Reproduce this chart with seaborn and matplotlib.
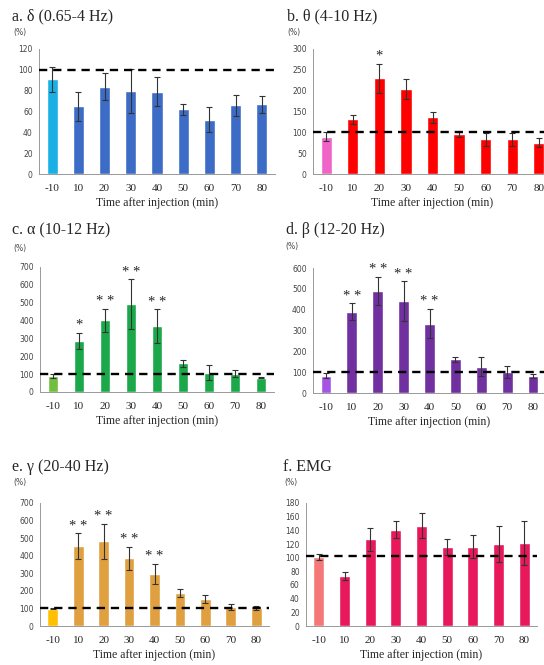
import matplotlib
matplotlib.use("Agg")
import matplotlib.pyplot as plt
import numpy as np
import pandas as pd
import seaborn as sns

sns.set_style("white")
plt.rcParams['font.family'] = ['DejaVu Sans']

times = ["-10", "10", "20", "30", "40", "50", "60", "70", "80"]

delta_mean = [91, 65, 84, 80, 79, 62, 52, 66, 67]
delta_err = [12, 14, 13, 21, 14, 5, 12, 10, 8]
delta_sig = ["", "", "", "", "", "", "", "", ""]

theta_mean = [90, 131, 230, 204, 136, 95, 83, 83, 75]
theta_err = [10, 11, 35, 23, 14, 6, 16, 15, 11]
theta_sig = ["", "", "*", "", "", "", "", "", ""]

alpha_mean = [88, 286, 401, 493, 370, 160, 108, 103, 80]
alpha_err = [12, 47, 63, 138, 93, 20, 43, 20, 4]
alpha_sig = ["", "*", "* *", "* *", "* *", "", "", "", ""]

beta_mean = [83, 390, 489, 441, 333, 161, 126, 102, 81]
beta_err = [12, 41, 68, 95, 71, 14, 46, 30, 8]
beta_sig = ["", "* *", "* *", "* *", "* *", "", "", "", ""]

gamma_mean = [99, 456, 481, 385, 296, 187, 153, 109, 101]
gamma_err = [3, 72, 101, 65, 57, 23, 22, 19, 10]
gamma_sig = ["", "* *", "* *", "* *", "* *", "", "", "", ""]

emg_mean = [101, 73, 127, 141, 147, 116, 116, 120, 122]
emg_err = [5, 6, 17, 12, 18, 12, 17, 26, 32]
emg_sig = ["", "", "", "", "", "", "", "", ""]

titles = ["a. δ (0.65-4 Hz)", "b. θ (4-10 Hz)", "c. α (10-12 Hz)",
          "d. β (12-20 Hz)", "e. γ (20-40 Hz)", "f. EMG"]
ymax = [120, 300, 700, 600, 700, 180]
ystep = [20, 50, 100, 100, 100, 20]
baseline = [100, 100, 100, 100, 105, 102]
first_colors = ["#1AB0E6", "#F064C8", "#72BE3E", "#A455E6", "#FFC000", "#F47878"]
rest_colors = ["#3C6CC6", "#FF0000", "#1AA84A", "#7030A0", "#E0A040", "#E8185C"]

means = [delta_mean, theta_mean, alpha_mean, beta_mean, gamma_mean, emg_mean]
errs = [delta_err, theta_err, alpha_err, beta_err, gamma_err, emg_err]
sigs = [delta_sig, theta_sig, alpha_sig, beta_sig, gamma_sig, emg_sig]

W, H = 544, 665
fig = plt.figure(figsize=(W / 100, H / 100), dpi=100)

# axes boxes in pixels: left, top, right, bottom
boxes = [(39, 49, 275, 174), (313, 49, 552, 174),
         (40, 267, 274, 392), (313, 268, 546, 393),
         (40, 503, 269, 626), (306, 503, 537, 626)]
title_pos = [(12, 16), (287, 16), (12, 230), (286, 230), (12, 467), (283, 467)]
pct_pos = [(13, 33), (287, 33), (13, 248), (285, 247), (13, 482), (284, 483)]

serif = ['Liberation Serif', 'DejaVu Serif']

for k in range(6):
    l, t, r, b = boxes[k]
    ax = fig.add_axes([l / W, 1 - b / H, (r - l) / W, (b - t) / H])
    df = pd.DataFrame({"time": times, "value": means[k]})
    pal = [first_colors[k]] + [rest_colors[k]] * 8
    sns.barplot(data=df, x="time", y="value", hue="time", palette=pal,
                legend=False, width=0.42, ax=ax, saturation=1, errorbar=None)
    xs = [p.get_x() + p.get_width() / 2 for p in ax.patches]
    ax.errorbar(xs, means[k], yerr=errs[k], fmt="none", ecolor="#333333",
                elinewidth=0.8, capsize=2.2, capthick=0.8, zorder=4)
    ax.axhline(baseline[k], color="black", lw=1.7, ls=(0, (3.5, 2.5)), zorder=5)
    for x, m, e, s in zip(xs, means[k], errs[k], sigs[k]):
        if s:
            ax.annotate(s, xy=(x, m + e), xytext=(0, 0.5), textcoords="offset points",
                        ha="center", va="bottom", fontsize=10.5, family=serif)
    ax.set_xlim(-0.5, 8.5)
    ax.set_ylim(0, ymax[k])
    ax.set_yticks(np.arange(0, ymax[k] + 1, ystep[k]))
    ax.set_xticks(np.arange(-0.5, 9, 1.0), minor=True)
    ax.tick_params(axis="x", which="major", length=0, pad=7, labelsize=8)
    ax.tick_params(axis="x", which="minor", length=3, color="#999999", width=0.6)
    ax.tick_params(axis="y", length=2.5, color="#999999", width=0.6,
                   labelsize=5.5, labelcolor="#444444", pad=2)
    for lab in ax.get_xticklabels():
        lab.set_family(serif)
    for sp in ["top", "right"]:
        ax.spines[sp].set_visible(False)
    for sp in ["left", "bottom"]:
        ax.spines[sp].set_color("#999999")
        ax.spines[sp].set_linewidth(0.7)
    ax.set_ylabel("")
    ax.set_xlabel("Time after injection (min)", fontsize=8.5, family=serif, labelpad=3)
    tx, ty = title_pos[k]
    fig.text(tx / W, 1 - ty / H, titles[k], fontsize=11.5, family=serif,
             ha="left", va="center")
    px, py = pct_pos[k]
    fig.text(px / W, 1 - py / H, "(%)", fontsize=5.5, color="#444444",
             ha="left", va="center")

fig.savefig("out.png", dpi=100)
